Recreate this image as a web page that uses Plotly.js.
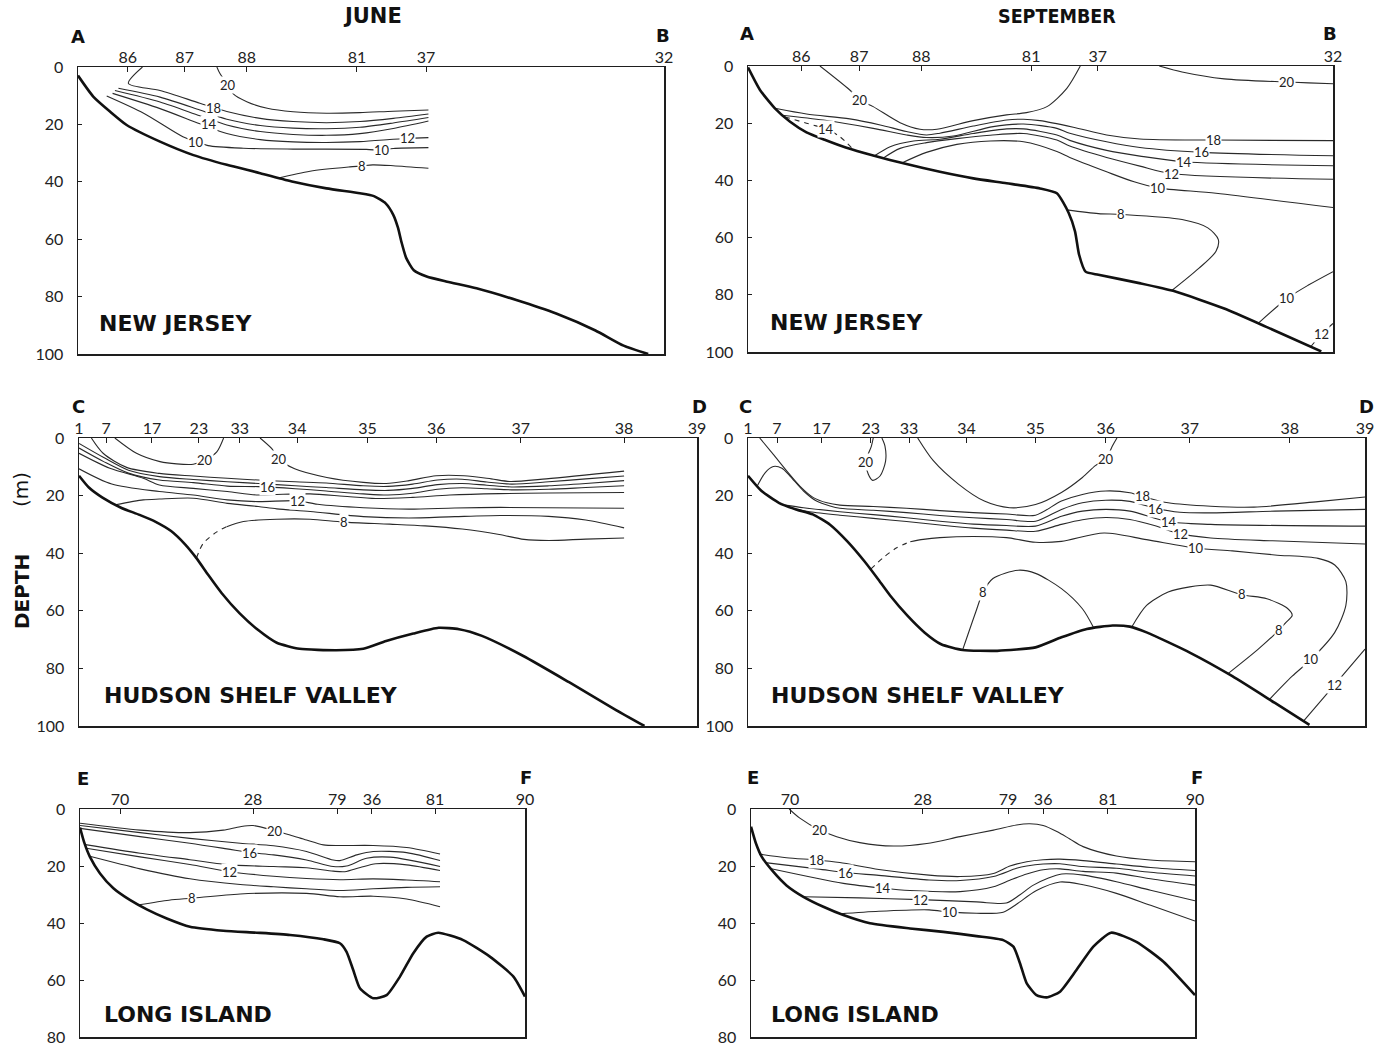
<!DOCTYPE html>
<html><head><meta charset="utf-8">
<script src="https://cdn.plot.ly/plotly-3.0.1.min.js"></script>
<style>html,body{margin:0;padding:0;background:#fff}#chart{width:1390px;height:1047px}</style>
</head><body><div id="chart"></div>
<script>
// ===== distance along section (% of section length) and depth (m) =====
const depthTicks100 = [0,20,40,60,80,100];
const depthTicks80 = [0,20,40,60,80];

// ---------- NEW JERSEY, JUNE ----------
const njJun_st_x = [8.5,18.2,28.8,47.6,59.4,100];
const njJun_st_t = ['86','87','88','81','37','32'];
const njJun_bottom_x = [0,2.6,5.5,8.3,14,19.7,25.4,31.1,36.7,42.4,48.1,50.5,52.5,53.8,54.6,55.2,56,57.3,59.5,63,68,74.8,81.6,88.3,93.1,97.3];
const njJun_bottom_d = [3,10.3,15.6,20.2,26,30.7,34.1,37,40,42.3,44,45,47.5,51.5,56,61,66.5,70.8,73,74.8,77.1,81.2,85.9,91.8,97.1,100];
const njJun_t20_x = [23.7,24.2,25.6,26.5,28.8,32.3,36.7,42.4,48.1,53.8,59.8];
const njJun_t20_d = [0,2.2,6.3,9.4,12.1,14.4,15.6,16.1,15.9,15.4,15.0];
const njJun_t18_x = [11.0,8.6,14.0,20.8,25.4,31.1,36.7,42.4,48.1,53.8,59.8];
const njJun_t18_d = [0,5.7,8.2,12.6,15.5,17.9,19.0,19.4,19.0,17.9,16.4];
const njJun_t16_x = [6.9,14,20.8,25.4,31.1,36.7,42.4,48.1,53.8,59.8];
const njJun_t16_d = [7.4,10.5,15.0,18.2,20.4,21.3,21.5,21.0,19.5,17.6];
const njJun_t14_x = [6.3,14,20.8,25.4,31.1,36.7,42.4,48.1,53.8,59.8];
const njJun_t14_d = [8.2,12.2,17.0,20.2,22.5,23.5,23.8,23.2,21.4,18.8];
const njJun_t12_x = [5.9,14,20.8,25.4,31.1,36.7,42.4,48.1,53.8,56.2,59.8];
const njJun_t12_d = [9.2,14.5,19.8,23.2,25.3,26.1,26.3,26.0,25.2,24.9,24.6];
const njJun_t10_x = [4.9,11.2,17.9,20.2,22.2,28.2,36.7,49.2,51.8,53.8,59.8];
const njJun_t10_d = [10.1,16.1,24.3,26.0,27.4,28.3,28.6,28.7,29.0,28.4,28.1];
const njJun_t8_x = [34,39.6,46.4,48.4,50.3,53.8,59.8];
const njJun_t8_d = [38.8,36.3,34.8,34.5,34.1,34.4,35.3];
const njJun_lab_x = [25.6,23.1,22.3,20.2,56.2,51.8,48.4];
const njJun_lab_d = [6.3,14.2,19.8,26.0,24.9,29.0,34.5];
const njJun_lab_t = ['20','18','14','10','12','10','8'];

// ---------- NEW JERSEY, SEPTEMBER ----------
const njSep_st_x = [9.1,19,29.6,48.4,59.8,100];
const njSep_st_t = ['86','87','88','81','37','32'];
const njSep_bottom_x = [0,2.05,4.6,7.2,10,13.1,16.7,21.4,27.1,32.8,38.5,44.2,49.9,52.8,54.8,55.9,56.6,57.7,59.9,67.1,72.8,81.4,88.6,98];
const njSep_bottom_d = [0.5,8.4,14.8,19.5,23.2,25.8,28.5,31.3,34.3,37,39.3,41,42.8,44.5,51.3,57.8,66,71.9,73,76,78.7,84.8,91.2,99.8];
const njSep_t20a_x = [12.3,17.4,19.1,21.4,26.0,29.4,32.3,38.5,44.2,47.6,51.1,54.5,56.8];
const njSep_t20a_d = [0,8.4,11.9,14.2,19.8,22.1,22.1,19.1,17.1,16.3,14.2,7.8,0];
const njSep_t20b_x = [70.3,74.2,81.4,92.2,95.8,100];
const njSep_t20b_d = [0,2.1,4.5,5.6,5.9,6.2];
const njSep_t18_x = [4.6,10.0,17.4,22.6,27.1,30.5,32.8,38.5,44.2,47.1,49.9,55.6,61.3,67,79.6,100];
const njSep_t18_d = [14.8,16.8,18.5,20.6,22.9,24.1,23.5,21.0,18.9,18.6,19.1,21.4,24.1,25.5,25.9,26.1];
const njSep_t16_x = [5.8,12.9,21.4,27.1,30.5,35.1,41.9,47.1,52.8,55,61.3,67,77.5,100];
const njSep_t16_d = [17.2,18.9,21.8,24.1,25.0,24.5,21.2,20.3,21.8,23.5,26.5,28.5,30.2,31.4];
const njSep_t14_x = [21.7,24.3,28.3,32.8,38.5,44.2,47.1,52.8,55,61.3,67,74.6,100];
const njSep_t14_d = [31.3,28.2,26.2,25.6,23.6,22.0,22.0,24.1,26,29.5,31.5,33.5,34.9];
const njSep_t12_x = [23.1,26.0,30.5,35.7,41.4,47.1,52.8,55,61.3,67,72.4,100];
const njSep_t12_d = [32.2,28.8,26.8,25.4,24.2,23.6,25.9,28,32,35,37.6,39.6];
const njSep_t10_x = [26.3,30.5,35.7,41.4,47.1,52.8,55,61.3,66,70,80,100];
const njSep_t10_d = [33.9,30.2,27.4,26.2,26.5,29.9,32,37,40.5,42.6,44.5,49.5];
const njSep_t14dash_x = [6.3,10,13.4,15.7,18];
const njSep_t14dash_d = [17.8,20,22.1,24.7,29.2];
const njSep_t8_x = [54.5,59.9,63.8,74.2,78.6,80.4,80,77.1,72.4];
const njSep_t8_d = [50.3,51.6,51.9,53.7,56.6,60.7,64.8,70.7,78.6];
const njSep_t10b_x = [87.3,92.2,95.8,100];
const njSep_t10b_d = [89.8,81.2,76.6,71.9];
const njSep_t12b_x = [96.3,98.1,100];
const njSep_t12b_d = [97.9,93.6,90.0];
const njSep_lab_x = [19.1,92.2,79.6,77.5,74.6,72.4,70,13.4,63.8,92.2,98.1];
const njSep_lab_d = [11.9,5.6,25.9,30.2,33.5,37.6,42.6,22.1,51.9,81.2,93.6];
const njSep_lab_t = ['20','20','18','16','14','12','10','14','8','10','12'];

// ---------- HUDSON SHELF VALLEY, JUNE ----------
const hsJun_st_x = [0,4.4,11.8,19.4,26.0,35.3,46.7,57.8,71.5,88.2,100];
const hsJun_st_t = ['1','7','17','23','33','34','35','36','37','38','39'];
const hsJun_bottom_x = [0,1.6,3.8,6.8,9.8,12.4,14.9,17.2,19,20.9,23.1,26,29,32,35.7,41.6,46,49.7,54.1,58.2,61.5,65.2,71.9,79.3,86.7,91.5];
const hsJun_bottom_d = [13.1,17.2,20.7,24.2,26.7,29.1,32.3,37,41.7,47.5,53.9,60.9,66.7,71.1,73.2,73.7,73.2,70.5,67.9,65.9,66.4,68.7,75.7,84.8,94.2,100];
const hsJun_t20a_x = [5.8,9.3,13.1,15.8,18.5,20.4,22.3,23.4];
const hsJun_t20a_d = [0,5.3,8.2,9.0,9.1,7.6,4.8,0];
const hsJun_t20b_x = [29.3,31.2,32.3,34.9,40.1,46,49.7,53.4,57.8,62.3,66.7,69.7,75.6,88.2];
const hsJun_t20b_d = [0,3.7,7.2,10.7,13.7,15.4,15.8,14.8,13.1,13.1,14.2,15.1,14.2,11.5];
const hsJun_tA_x = [2,3.9,7.7,13,18.5,24,29,35,40,46,50,54,58,62,66,70,76,82,88.2];
const hsJun_tA_d = [0,5.3,10.2,12.3,13.2,14,14.6,15.2,15.6,16.6,16.8,16,14.6,14.3,15.3,16,15.2,14.2,13.2];
const hsJun_tB_x = [0,4,8,13,18.5,24,29,35,40,46,50,54,58,62,66,70,76,82,88.2];
const hsJun_tB_d = [1.9,6.8,11.2,13.4,14.4,15.2,15.8,16.6,17.2,18,18.2,17.5,16.2,15.8,16.4,17,16.6,15.8,14.8];
const hsJun_tC_x = [0,4,8,13,18.5,24,29,35,40,46,50,54,58,62,66,70,76,82,88.2];
const hsJun_tC_d = [3.5,8.2,12.2,14.6,15.5,16.7,16.9,17.6,18.4,19.4,19.8,19.2,17.8,17.3,17.6,18,17.8,17.2,16.6];
const hsJun_tD_x = [0,5,10.4,13,18.5,24,29,32,37.4,42.8,48,54,60,68,76,88.2];
const hsJun_tD_d = [5.3,10.5,14,16.3,17.5,18.6,19.8,19.6,19.4,20.2,21,20.6,19.8,19.3,19.1,18.9];
const hsJun_tE_x = [0,5.3,13,18.5,24,29,35.3,38.6,46,53.4,60.8,68.2,88.2];
const hsJun_tE_d = [10.7,16,18.6,19.8,21.5,22.1,21.8,23,24.2,24.7,24.3,24.1,24.4];
const hsJun_tF_x = [5.9,10.4,13,18.5,24,29,32,37.4,46,53.4,60.8,68.2,76,82,88.2];
const hsJun_tF_d = [23.2,21.5,21.2,20.9,22.7,23.8,24.6,25.5,27.3,27.8,27.3,26.9,27.2,28.5,31.2];
const hsJun_t8dash_x = [19,20.1,22.3,23.9];
const hsJun_t8dash_d = [41.7,36.6,32.6,30.8];
const hsJun_t8_x = [23.9,26.6,32,37.4,42.8,50.3,56,62,68,72,76,82,88.2];
const hsJun_t8_d = [30.8,29,28.2,28.2,29.2,29.9,30.5,31.6,33.5,35.2,35.6,35.1,34.7];
const hsJun_lab_x = [20.4,32.3,30.5,35.3,42.8];
const hsJun_lab_d = [7.6,7.2,16.9,21.8,29.2];
const hsJun_lab_t = ['20','20','16','12','8'];

// ---------- HUDSON SHELF VALLEY, SEPTEMBER ----------
const hsSep_st_x = [0,4.7,11.9,19.9,26.1,35.4,46.6,58.0,71.6,87.8,100];
const hsSep_st_t = ['1','7','17','23','33','34','35','36','37','38','39'];
const hsSep_bottom_x = [0,2.2,5,7.8,10.5,13.3,16.1,18.9,21,23,25.8,28.6,31.3,34.8,40.4,46.6,50.8,54.9,59.1,61.9,64.6,71.6,78.5,85.4,91];
const hsSep_bottom_d = [13.1,18.4,22.5,24.8,26.5,30.1,35.9,42.9,48.8,54.6,61.6,67.5,71.6,73.6,73.9,72.7,69.2,66.3,65.1,65.5,67.5,74.5,82.7,92,99.6];
const hsSep_t20a_x = [20.3,20.0,19.1,19.5,20.2,21.4,22.3,22.2,21.7];
const hsSep_t20a_d = [0,2.8,8.2,12.6,14.7,13.2,8,2.8,0];
const hsSep_t20b_x = [27.5,30,34.1,38.3,42.4,46.6,50.8,54.2,56.3,58,59.1,59.8];
const hsSep_t20b_d = [0,7.8,16,21.9,24.2,23.1,18.9,13.7,9.6,7.3,2.6,0];
const hsSep_t18_x = [1.9,4.1,6.3,8.4,10.6,12.8,14.9,20.3,25.7,31.1,36.5,41.9,46.6,50.8,54.2,58,61.9,64.3,68.1,75,82,92.4,100];
const hsSep_t18_d = [0,5.7,11.5,16.7,20.7,22.5,23.3,23.8,24.4,25.2,25.9,26.4,26.8,21.9,19.6,18.4,19,20.5,22.5,23.7,24,22.1,20.5];
const hsSep_t16_x = [1.5,2.8,4.1,5.5,6.8,9,11.1,13.3,14.9,20.3,25.7,31.1,36.5,41.9,46.6,50.8,54.2,58,61.9,66,70,75,85.4,100];
const hsSep_t16_d = [16.7,12,9.9,10.5,13.2,18.4,21.9,23.6,24.4,25.1,25.9,26.9,27.7,28.3,28.9,24.8,22.5,21.6,22,24.4,25.8,26,25.4,24.8];
const hsSep_t14_x = [6,9,14.9,20.3,25.7,31.1,36.5,41.9,46.6,50.8,54.2,58,61.9,68.1,75,100];
const hsSep_t14_d = [23.3,24.2,25.6,26.6,27.7,28.9,29.9,30.4,30.6,27.2,25.4,24.8,25.4,29.1,30,30.6];
const hsSep_t12_x = [7.3,10,14.9,20.3,25.7,31.1,36.5,41.9,46.6,50.8,54.2,58,61.9,66,70,75,85,100];
const hsSep_t12_d = [24.5,25.6,26.8,27.9,29,30.2,31.3,32,32.4,30,28.4,27.6,28.3,30.5,33.3,34.7,35.7,36.8];
const hsSep_t10dash_x = [19.9,21.9,24.1,26.3];
const hsSep_t10dash_d = [45.5,41.6,38.1,36];
const hsSep_t10_x = [26.3,28.4,31.1,36.5,41.9,46.6,50.8,57.7,64.6,72.6,78.5,85.4,92.4,95.1,96.9,96.9,95.1,91.3,88.2,84.5];
const hsSep_t10_d = [36,35.2,34.6,34.2,34.6,36.2,35.9,33,35.3,38.2,39.2,40.6,41.8,44.1,49.9,58.1,67.5,76.8,82.7,90.8];
const hsSep_t8a_x = [34.8,36.9,38.1,39.7,43.8,46.6,50.8,54.2,56];
const hsSep_t8a_d = [73.5,60.5,53.5,48.8,45.9,47,52.3,59.3,65.8];
const hsSep_t8b_x = [62.2,64.6,68.1,71.6,75,80,84.1,87.5,88.2,87.2,86.1,82.7,77.8];
const hsSep_t8b_d = [65.6,58.1,53.5,51.7,51.1,54.4,55.8,59.3,61.6,64,66.6,73.3,81.8];
const hsSep_t12b_x = [90,95.1,100];
const hsSep_t12b_d = [98.4,85.6,73.3];
const hsSep_lab_x = [19.1,58,64.0,66.1,68.2,70.1,72.6,38.1,80,86.1,91.3,95.1];
const hsSep_lab_d = [8.2,7.3,20.3,24.5,29.2,33.4,38.2,53.5,54.3,66.5,76.8,85.6];
const hsSep_lab_t = ['20','20','18','16','14','12','10','8','8','8','10','12'];

// ---------- LONG ISLAND, JUNE ----------
const liJun_st_x = [9,38.9,57.8,65.6,79.8,100];
const liJun_st_t = ['70','28','79','36','81','90'];
const liJun_bottom_x = [0,1,2.2,4.5,7.5,11.2,15,19.5,24.7,32.2,39.7,47.2,54.7,58.4,59.9,61.4,62.9,65.9,68.9,71.9,74.9,77.9,80.5,86.1,92.1,97.4,100];
const liJun_bottom_d = [6.5,12,16.7,22.6,27.8,31.9,35.2,38.4,41.3,42.7,43.4,44.2,45.7,47.1,50.1,56.5,62.9,66.4,65.3,58.8,50.6,44.8,43.4,46,51.8,58.8,65.8];
const liJun_t20_x = [0,13.5,24.7,32.2,36,38.9,43.8,47.2,50.9,54.7,58.4,65.9,73.4,80.9];
const liJun_t20_d = [5,7.4,8.3,7.4,6.2,5.8,7.6,9.1,10.9,12.6,12.8,12.8,13.5,15.8];
const liJun_t18_x = [0,13.5,24.7,36,43.5,50.9,56.9,58.4,62.2,65.9,73.4,80.9];
const liJun_t18_d = [5.8,8.3,10.3,12,12.9,14.9,17.9,18.1,16.1,14.9,15.3,18.1];
const liJun_t16_x = [0,13.5,24.7,33,38.2,43.5,50.9,56.9,59.9,64.4,69.7,80.9];
const liJun_t16_d = [6.8,9.7,12,14,15.3,16.1,17.9,20.2,20,17.3,16.9,20.2];
const liJun_t14_x = [1.2,13.5,24.7,33,43.5,50.9,56.9,59.5,63,66.5,73.4,80.9];
const liJun_t14_d = [12.5,15.5,17.8,19.5,20.2,20.6,21.8,22,20.5,19.2,19.6,21.6];
const liJun_t12_x = [1.4,13.5,24.7,33.7,43.5,50.9,58.4,65.9,73.4,80.9];
const liJun_t12_d = [13.8,16.8,19.5,22,23.6,24.4,24.8,24.5,24.9,25.5];
const liJun_t10_x = [2.2,13.5,24.7,36,43.5,50.9,58.4,65.9,73.4,80.9];
const liJun_t10_d = [16.6,21,24.5,26.5,27.3,28,28.6,28,27.5,27.3];
const liJun_t8_x = [13.3,20,25.1,36,50.9,58.4,65.9,73.4,80.9];
const liJun_t8_d = [33.6,32,31.3,29.8,29.6,30.8,30.6,31.6,34.3];
const liJun_lab_x = [43.8,38.2,33.7,25.1];
const liJun_lab_d = [7.6,15.3,22,31.3];
const liJun_lab_t = ['20','16','12','8'];

// ---------- LONG ISLAND, SEPTEMBER ----------
const liSep_st_x = [8.8,38.7,57.9,65.8,80.4,100];
const liSep_st_t = ['70','28','79','36','81','90'];
const liSep_bottom_x = [0,1.1,2.4,5,8,11.8,16.3,20.8,26.8,35.8,43.3,50.8,56.8,59.1,60.6,62.1,64.3,66.6,69.6,73.3,77.1,81.1,86.8,92.9,100];
const liSep_bottom_d = [6.2,12,16.7,22,26.8,30.8,34.3,37.2,40.1,41.9,43.1,44.6,46,48.3,54.2,61.2,65.3,66.1,64.1,56.5,48.3,43.4,46.6,53.6,65.3];
const liSep_t20_x = [8.6,11,15.5,19.3,24.5,32.1,39.6,47.1,54.6,59.8,62.8,65.8,69,71.8,74.8,82.3,89.9,100];
const liSep_t20_d = [0,3.2,7.4,9.7,11.8,13,12.1,9.7,7.4,5.6,5.2,5.8,8,10.5,13.2,16.5,17.9,18.5];
const liSep_t18_x = [1.8,8,14.8,20,28.8,40.1,47.1,54.6,58.3,62.1,65.8,69.6,74.8,82.3,90,100];
const liSep_t18_d = [15.8,17.1,17.9,18.8,21.2,23.2,23.7,22.6,20,18.5,17.8,17.6,18.1,19.3,20.5,21.6];
const liSep_t16_x = [3.2,15,21.2,28.8,40.1,47.1,54.6,59.8,62.1,65.8,69.6,74.8,82.3,90,100];
const liSep_t16_d = [18.8,21,22.3,23.3,24.9,25.1,23.7,20.8,20,19.3,19.2,20.2,20.8,22.2,23.5];
const liSep_t14_x = [4.3,20.8,29.8,35.8,47.1,54.6,58.3,62.1,65.8,69.6,74.8,82.3,90,100];
const liSep_t14_d = [20.9,26.1,27.8,28.6,29,27.3,25,22.8,21.3,21,21.9,22.5,24.5,26.7];
const liSep_t12_x = [11.8,24.5,38.1,50.8,57.5,60.5,63.5,67,70,74.8,82.3,90,100];
const liSep_t12_d = [30.8,31.2,31.8,32.6,33,30.2,26.8,24.2,22.8,23.2,25.5,28.5,32.2];
const liSep_t10_x = [20,28.8,40.1,44.8,50.8,56.8,59.8,64.3,69.6,74.8,82.3,90,100];
const liSep_t10_d = [36.8,35.9,35.4,36.2,36.6,36.2,33.4,28.6,25.6,26.6,29.6,33.8,39.3];
const liSep_lab_x = [15.5,14.8,21.2,29.8,38.1,44.8];
const liSep_lab_d = [7.4,17.9,22.3,27.8,31.8,36.2];
const liSep_lab_t = ['20','18','16','14','12','10'];

// ===== panel layout (pixel frames: left, right, top, bottom) =====
const W = 1390, H = 1047;
const panels = [
  {n:1, frame:[78,664,67,354], maxD:100, yt:depthTicks100, stX:njJun_st_x, stT:njJun_st_t,
   bottom:[njJun_bottom_x,njJun_bottom_d],
   iso:[[njJun_t20_x,njJun_t20_d],[njJun_t18_x,njJun_t18_d],[njJun_t16_x,njJun_t16_d],[njJun_t14_x,njJun_t14_d],[njJun_t12_x,njJun_t12_d],[njJun_t10_x,njJun_t10_d],[njJun_t8_x,njJun_t8_d]],
   dashed:[], lab:[njJun_lab_x,njJun_lab_d,njJun_lab_t]},
  {n:2, frame:[748,1333,66,352], maxD:100, yt:depthTicks100, stX:njSep_st_x, stT:njSep_st_t,
   bottom:[njSep_bottom_x,njSep_bottom_d],
   iso:[[njSep_t20a_x,njSep_t20a_d],[njSep_t20b_x,njSep_t20b_d],[njSep_t18_x,njSep_t18_d],[njSep_t16_x,njSep_t16_d],[njSep_t14_x,njSep_t14_d],[njSep_t12_x,njSep_t12_d],[njSep_t10_x,njSep_t10_d],[njSep_t8_x,njSep_t8_d],[njSep_t10b_x,njSep_t10b_d],[njSep_t12b_x,njSep_t12b_d]],
   dashed:[[njSep_t14dash_x,njSep_t14dash_d]], lab:[njSep_lab_x,njSep_lab_d,njSep_lab_t]},
  {n:3, frame:[79,697,438,726], maxD:100, yt:depthTicks100, stX:hsJun_st_x, stT:hsJun_st_t,
   bottom:[hsJun_bottom_x,hsJun_bottom_d],
   iso:[[hsJun_t20a_x,hsJun_t20a_d],[hsJun_t20b_x,hsJun_t20b_d],[hsJun_tA_x,hsJun_tA_d],[hsJun_tB_x,hsJun_tB_d],[hsJun_tC_x,hsJun_tC_d],[hsJun_tD_x,hsJun_tD_d],[hsJun_tE_x,hsJun_tE_d],[hsJun_tF_x,hsJun_tF_d],[hsJun_t8_x,hsJun_t8_d]],
   dashed:[[hsJun_t8dash_x,hsJun_t8dash_d]], lab:[hsJun_lab_x,hsJun_lab_d,hsJun_lab_t]},
  {n:4, frame:[748,1365,438,726], maxD:100, yt:depthTicks100, stX:hsSep_st_x, stT:hsSep_st_t,
   bottom:[hsSep_bottom_x,hsSep_bottom_d],
   iso:[[hsSep_t20a_x,hsSep_t20a_d],[hsSep_t20b_x,hsSep_t20b_d],[hsSep_t18_x,hsSep_t18_d],[hsSep_t16_x,hsSep_t16_d],[hsSep_t14_x,hsSep_t14_d],[hsSep_t12_x,hsSep_t12_d],[hsSep_t10_x,hsSep_t10_d],[hsSep_t8a_x,hsSep_t8a_d],[hsSep_t8b_x,hsSep_t8b_d],[hsSep_t12b_x,hsSep_t12b_d]],
   dashed:[[hsSep_t10dash_x,hsSep_t10dash_d]], lab:[hsSep_lab_x,hsSep_lab_d,hsSep_lab_t]},
  {n:5, frame:[80,525,809,1037], maxD:80, yt:depthTicks80, stX:liJun_st_x, stT:liJun_st_t,
   bottom:[liJun_bottom_x,liJun_bottom_d],
   iso:[[liJun_t20_x,liJun_t20_d],[liJun_t18_x,liJun_t18_d],[liJun_t16_x,liJun_t16_d],[liJun_t14_x,liJun_t14_d],[liJun_t12_x,liJun_t12_d],[liJun_t10_x,liJun_t10_d],[liJun_t8_x,liJun_t8_d]],
   dashed:[], lab:[liJun_lab_x,liJun_lab_d,liJun_lab_t]},
  {n:6, frame:[751,1195,809,1037], maxD:80, yt:depthTicks80, stX:liSep_st_x, stT:liSep_st_t,
   bottom:[liSep_bottom_x,liSep_bottom_d],
   iso:[[liSep_t20_x,liSep_t20_d],[liSep_t18_x,liSep_t18_d],[liSep_t16_x,liSep_t16_d],[liSep_t14_x,liSep_t14_d],[liSep_t12_x,liSep_t12_d],[liSep_t10_x,liSep_t10_d]],
   dashed:[], lab:[liSep_lab_x,liSep_lab_d,liSep_lab_t]}
];

const numFont = 'Lato, "Open Sans", sans-serif';
const boldFont = '"DejaVu Sans", sans-serif';
const ink = '#1e1e1e';
const traces = [];
const layout = {
  width:W, height:H, margin:{l:0,r:0,t:0,b:0},
  paper_bgcolor:'#fff', plot_bgcolor:'#fff', showlegend:false, annotations:[]
};

panels.forEach(p => {
  const xr = p.n === 1 ? 'x' : 'x' + p.n;
  const yr = p.n === 1 ? 'y' : 'y' + p.n;
  const xa = p.n === 1 ? 'xaxis' : 'xaxis' + p.n;
  const ya = p.n === 1 ? 'yaxis' : 'yaxis' + p.n;
  layout[xa] = {
    domain:[p.frame[0]/W, p.frame[1]/W], range:[0,100], anchor:yr, side:'top',
    tickmode:'array', tickvals:p.stX, ticktext:p.stT, ticks:'inside', ticklen:5, tickwidth:1, tickcolor:ink,
    showline:true, mirror:true, linecolor:ink, linewidth:1.5, showgrid:false, zeroline:false,
    tickfont:{family:numFont, size:16, color:'#222'}, ticklabelstandoff:-4, fixedrange:true
  };
  layout[ya] = {
    domain:[1-p.frame[3]/H, 1-p.frame[2]/H], range:[p.maxD,0], anchor:xr,
    tickmode:'array', tickvals:p.yt, ticks:'inside', ticklen:4, tickwidth:1, tickcolor:ink,
    showline:true, mirror:true, linecolor:ink, linewidth:1.5, showgrid:false, zeroline:false,
    tickfont:{family:numFont, size:16, color:'#222'}, ticklabelstandoff:10, fixedrange:true
  };
  p.iso.forEach(l => traces.push({
    type:'scatter', mode:'lines', x:l[0], y:l[1], xaxis:xr, yaxis:yr, hoverinfo:'skip',
    line:{color:'#2a2a2a', width:1.1, shape:'spline', smoothing:0.8}
  }));
  p.dashed.forEach(l => traces.push({
    type:'scatter', mode:'lines', x:l[0], y:l[1], xaxis:xr, yaxis:yr, hoverinfo:'skip',
    line:{color:'#2a2a2a', width:1.1, shape:'spline', smoothing:0.8, dash:'5px,5px'}
  }));
  traces.push({
    type:'scatter', mode:'lines', x:p.bottom[0], y:p.bottom[1], xaxis:xr, yaxis:yr, hoverinfo:'skip',
    line:{color:'#111', width:2.6, shape:'spline', smoothing:0.55}
  });
  const L = p.lab;
  for (let i = 0; i < L[0].length; i++) {
    layout.annotations.push({
      xref:xr, yref:yr, x:L[0][i], y:L[1][i], text:L[2][i], showarrow:false,
      font:{family:numFont, size:13, color:'#222'}, bgcolor:'#fff', borderpad:0,
      xanchor:'center', yanchor:'middle'
    });
  }
});

// page-level text (pixel positions)
function pa(x, y, text, opts) {
  layout.annotations.push(Object.assign({
    xref:'paper', yref:'paper', x:x/W, y:1-y/H, text:text, showarrow:false,
    xanchor:'center', yanchor:'middle', font:{family:boldFont, size:18, color:'#111', weight:'bold'}
  }, opts || {}));
}
pa(372, 16, 'JUNE', {font:{family:boldFont, size:21, color:'#111', weight:'bold'}});
pa(1057, 16, 'SEPTEMBER', {font:{family:'"DejaVu Sans Condensed", "DejaVu Sans", sans-serif', size:19.5, color:'#111', weight:'bold'}});
pa(78, 36, 'A'); pa(663, 35, 'B');
pa(747, 34, 'A'); pa(1330, 33, 'B');
pa(78, 406, 'C'); pa(699, 406, 'D');
pa(746, 406, 'C'); pa(1366, 406, 'D');
pa(83, 778, 'E'); pa(526, 777, 'F');
pa(753, 777, 'E'); pa(1197, 777, 'F');
const regionFont = {family:boldFont, size:22, color:'#111', weight:'bold'};
pa(97, 323, 'NEW JERSEY', {xanchor:'left', font:regionFont});
pa(768, 322, 'NEW JERSEY', {xanchor:'left', font:regionFont});
pa(102, 695, 'HUDSON SHELF VALLEY', {xanchor:'left', font:regionFont});
pa(769, 695, 'HUDSON SHELF VALLEY', {xanchor:'left', font:regionFont});
pa(102, 1014, 'LONG ISLAND', {xanchor:'left', font:regionFont});
pa(769, 1014, 'LONG ISLAND', {xanchor:'left', font:regionFont});
pa(21, 490, '(m)', {textangle:-90, font:{family:boldFont, size:20, color:'#111'}});
pa(22, 592, 'DEPTH', {textangle:-90, font:{family:boldFont, size:20, color:'#111', weight:'bold'}});

Plotly.newPlot('chart', traces, layout, {staticPlot:true, displayModeBar:false});
</script>
</body></html>
